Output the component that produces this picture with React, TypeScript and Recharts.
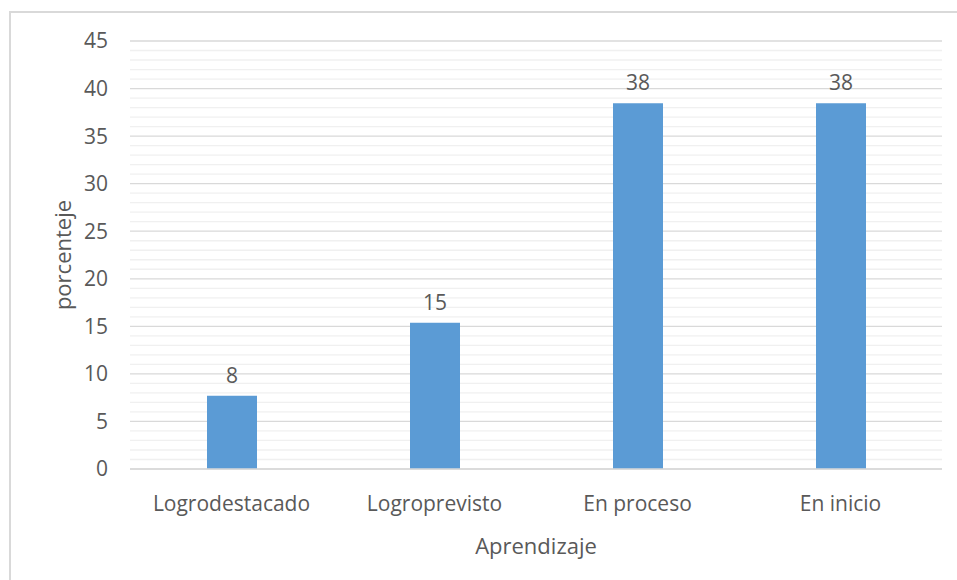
import React from 'react';
import { BarChart, Bar, XAxis, YAxis, CartesianGrid, LabelList } from 'recharts';

const categories = ['Logrodestacado', 'Logroprevisto', 'En proceso', 'En inicio'];
const porcentaje = [7.69, 15.38, 38.46, 38.46];
const majorTicks = [0, 5, 10, 15, 20, 25, 30, 35, 40, 45];
const minorTicks = [
  1, 2, 3, 4, 6, 7, 8, 9, 11, 12, 13, 14, 16, 17, 18, 19, 21, 22, 23, 24,
  26, 27, 28, 29, 31, 32, 33, 34, 36, 37, 38, 39, 41, 42, 43, 44,
];

const data = categories.map((c, i) => ({ name: c, value: porcentaje[i] }));

const FONT = '"Open Sans", sans-serif';
const TEXT = '#595959';

export default function App() {
  return (
    <div style={{ position: 'absolute', left: 0, top: 0, width: 957, height: 580, background: '#fff', fontFamily: FONT }}>
      <div
        style={{
          position: 'absolute',
          left: 9,
          top: 11,
          width: 960,
          height: 580,
          borderLeft: '2px solid #D9D9D9',
          borderTop: '2px solid #D9D9D9',
          boxSizing: 'border-box',
        }}
      />
      <div style={{ position: 'absolute', left: 0, top: 0 }}>
        <BarChart
          width={957}
          height={580}
          data={data}
          margin={{ top: 41, right: 15, bottom: 0, left: 0 }}
          barSize={50}
        >
          <CartesianGrid
            vertical={false}
            horizontalValues={minorTicks}
            stroke="#F0F0F0"
            strokeWidth={1.3}
          />
          <CartesianGrid
            vertical={false}
            horizontalValues={majorTicks}
            stroke="#D9D9D9"
            strokeWidth={1.3}
          />
          <XAxis
            dataKey="name"
            height={111}
            tickLine={false}
            axisLine={{ stroke: '#D9D9D9', strokeWidth: 1.3 }}
            tickMargin={21}
            tick={{ fill: TEXT, fontSize: 21, fontFamily: FONT }}
            label={{
              value: 'Aprendizaje',
              position: 'insideBottom',
              offset: 26,
              fill: TEXT,
              fontSize: 22,
              fontFamily: FONT,
            }}
          />
          <YAxis
            width={130}
            domain={[0, 45]}
            ticks={majorTicks}
            interval={0}
            tickLine={false}
            axisLine={false}
            tickMargin={16}
            tick={{ fill: TEXT, fontSize: 21, fontFamily: FONT }}
            label={{
              value: 'porcenteje',
              angle: -90,
              position: 'insideLeft',
              offset: 63,
              fill: TEXT,
              fontSize: 22,
              fontFamily: FONT,
              style: { textAnchor: 'middle' },
            }}
          />
          <Bar dataKey="value" fill="#5B9BD5" isAnimationActive={false}>
            <LabelList
              dataKey="value"
              position="top"
              offset={13}
              formatter={(v: number) => Math.round(v)}
              fill={TEXT}
              fontSize={21}
              fontFamily={FONT}
            />
          </Bar>
        </BarChart>
      </div>
    </div>
  );
}
